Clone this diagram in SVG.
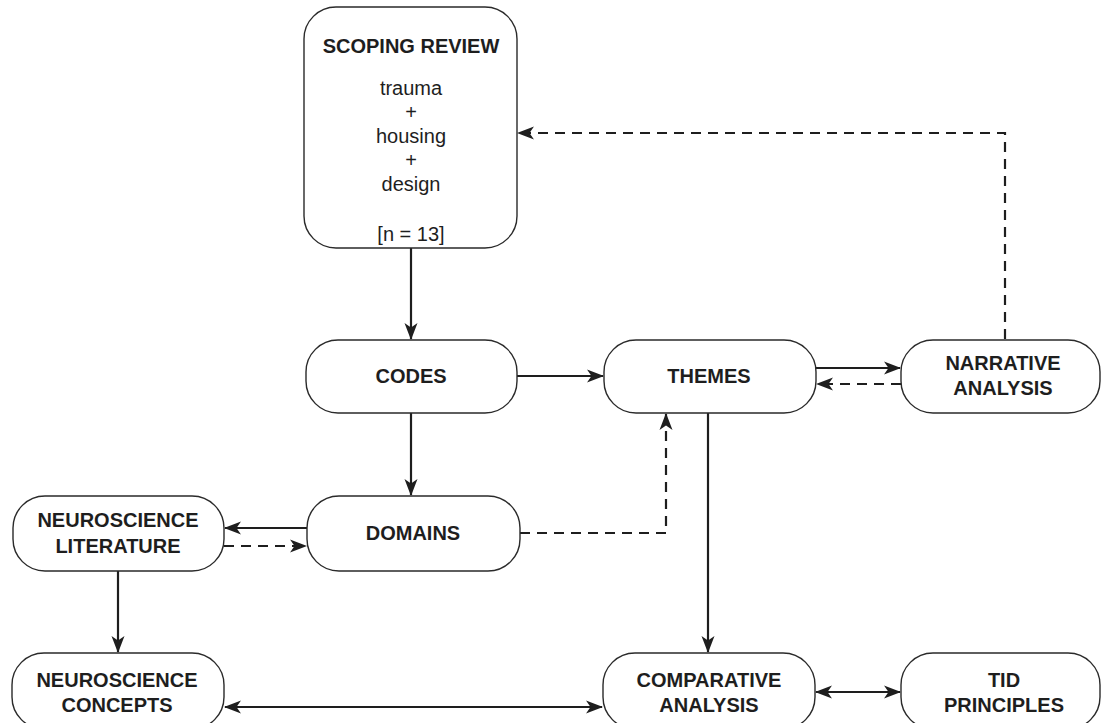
<svg xmlns="http://www.w3.org/2000/svg" width="1102" height="723" viewBox="0 0 1102 723">
<defs>
<style>
.box{fill:#fff;stroke:#2a2a2a;stroke-width:1.4}
.t{font-family:"Liberation Sans",Arial,sans-serif;font-size:20px;fill:#1e1e1e;text-anchor:middle}
.b{font-weight:bold}
.c{fill:none;stroke:#1e1e1e;stroke-width:2.2}
.d{stroke-dasharray:10,7}
</style>
<marker id="ah" markerUnits="userSpaceOnUse" markerWidth="18" markerHeight="14" refX="16" refY="7" orient="auto-start-reverse">
<path d="M0,0.5 L17,7 L0,13.5 L4.5,7 z" fill="#1e1e1e"/>
</marker>
</defs>
<rect width="1102" height="723" fill="#fff"/>
<g id="connectors">
<path class="c" d="M411,248 L411,339" marker-end="url(#ah)"/>
<path class="c" d="M517,376 L603,376" marker-end="url(#ah)"/>
<path class="c" d="M816,368 L900,368" marker-end="url(#ah)"/>
<path class="c d" d="M901,384 L817,384" marker-end="url(#ah)"/>
<path class="c d" d="M1005,339 L1005,133 L518,133" marker-end="url(#ah)"/>
<path class="c" d="M411,413 L411,495" marker-end="url(#ah)"/>
<path class="c" d="M307,528 L225,528" marker-end="url(#ah)"/>
<path class="c d" d="M224,546 L306,546" marker-end="url(#ah)"/>
<path class="c d" d="M520,533 L666,533 L666,414" marker-end="url(#ah)"/>
<path class="c" d="M708,413 L708,652" marker-end="url(#ah)"/>
<path class="c" d="M118,571 L118,652" marker-end="url(#ah)"/>
<path class="c" d="M225,707 L602,707" marker-start="url(#ah)" marker-end="url(#ah)"/>
<path class="c" d="M816,692 L900,692" marker-start="url(#ah)" marker-end="url(#ah)"/>
</g>
<g id="scoping-review">
<rect class="box" x="304" y="7" width="213" height="241" rx="32"/>
<text class="t b" x="411" y="53">SCOPING REVIEW</text>
<text class="t" x="411" y="95">trauma</text>
<text class="t" x="411" y="119">+</text>
<text class="t" x="411" y="143">housing</text>
<text class="t" x="411" y="167">+</text>
<text class="t" x="411" y="191">design</text>
<text class="t" x="411" y="241">[n = 13]</text>
</g>
<g id="codes">
<rect class="box" x="306" y="340" width="211" height="73" rx="32"/>
<text class="t b" x="411" y="383">CODES</text>
</g>
<g id="themes">
<rect class="box" x="604" y="340" width="212" height="73" rx="32"/>
<text class="t b" x="709" y="383">THEMES</text>
</g>
<g id="narrative-analysis">
<rect class="box" x="901" y="340" width="199" height="73" rx="32"/>
<text class="t b" x="1003" y="370">NARRATIVE</text>
<text class="t b" x="1003" y="395">ANALYSIS</text>
</g>
<g id="domains">
<rect class="box" x="307" y="496" width="213" height="75" rx="32"/>
<text class="t b" x="413" y="540">DOMAINS</text>
</g>
<g id="neuroscience-literature">
<rect class="box" x="13" y="496" width="211" height="75" rx="32"/>
<text class="t b" x="118" y="527">NEUROSCIENCE</text>
<text class="t b" x="118" y="553">LITERATURE</text>
</g>
<g id="neuroscience-concepts">
<rect class="box" x="12" y="653" width="212" height="76" rx="32"/>
<text class="t b" x="117" y="687">NEUROSCIENCE</text>
<text class="t b" x="117" y="712">CONCEPTS</text>
</g>
<g id="comparative-analysis">
<rect class="box" x="603" y="653" width="212" height="76" rx="32"/>
<text class="t b" x="709" y="687">COMPARATIVE</text>
<text class="t b" x="709" y="712">ANALYSIS</text>
</g>
<g id="tid-principles">
<rect class="box" x="901" y="653" width="199" height="76" rx="32"/>
<text class="t b" x="1004" y="687">TID</text>
<text class="t b" x="1004" y="712">PRINCIPLES</text>
</g>
</svg>
